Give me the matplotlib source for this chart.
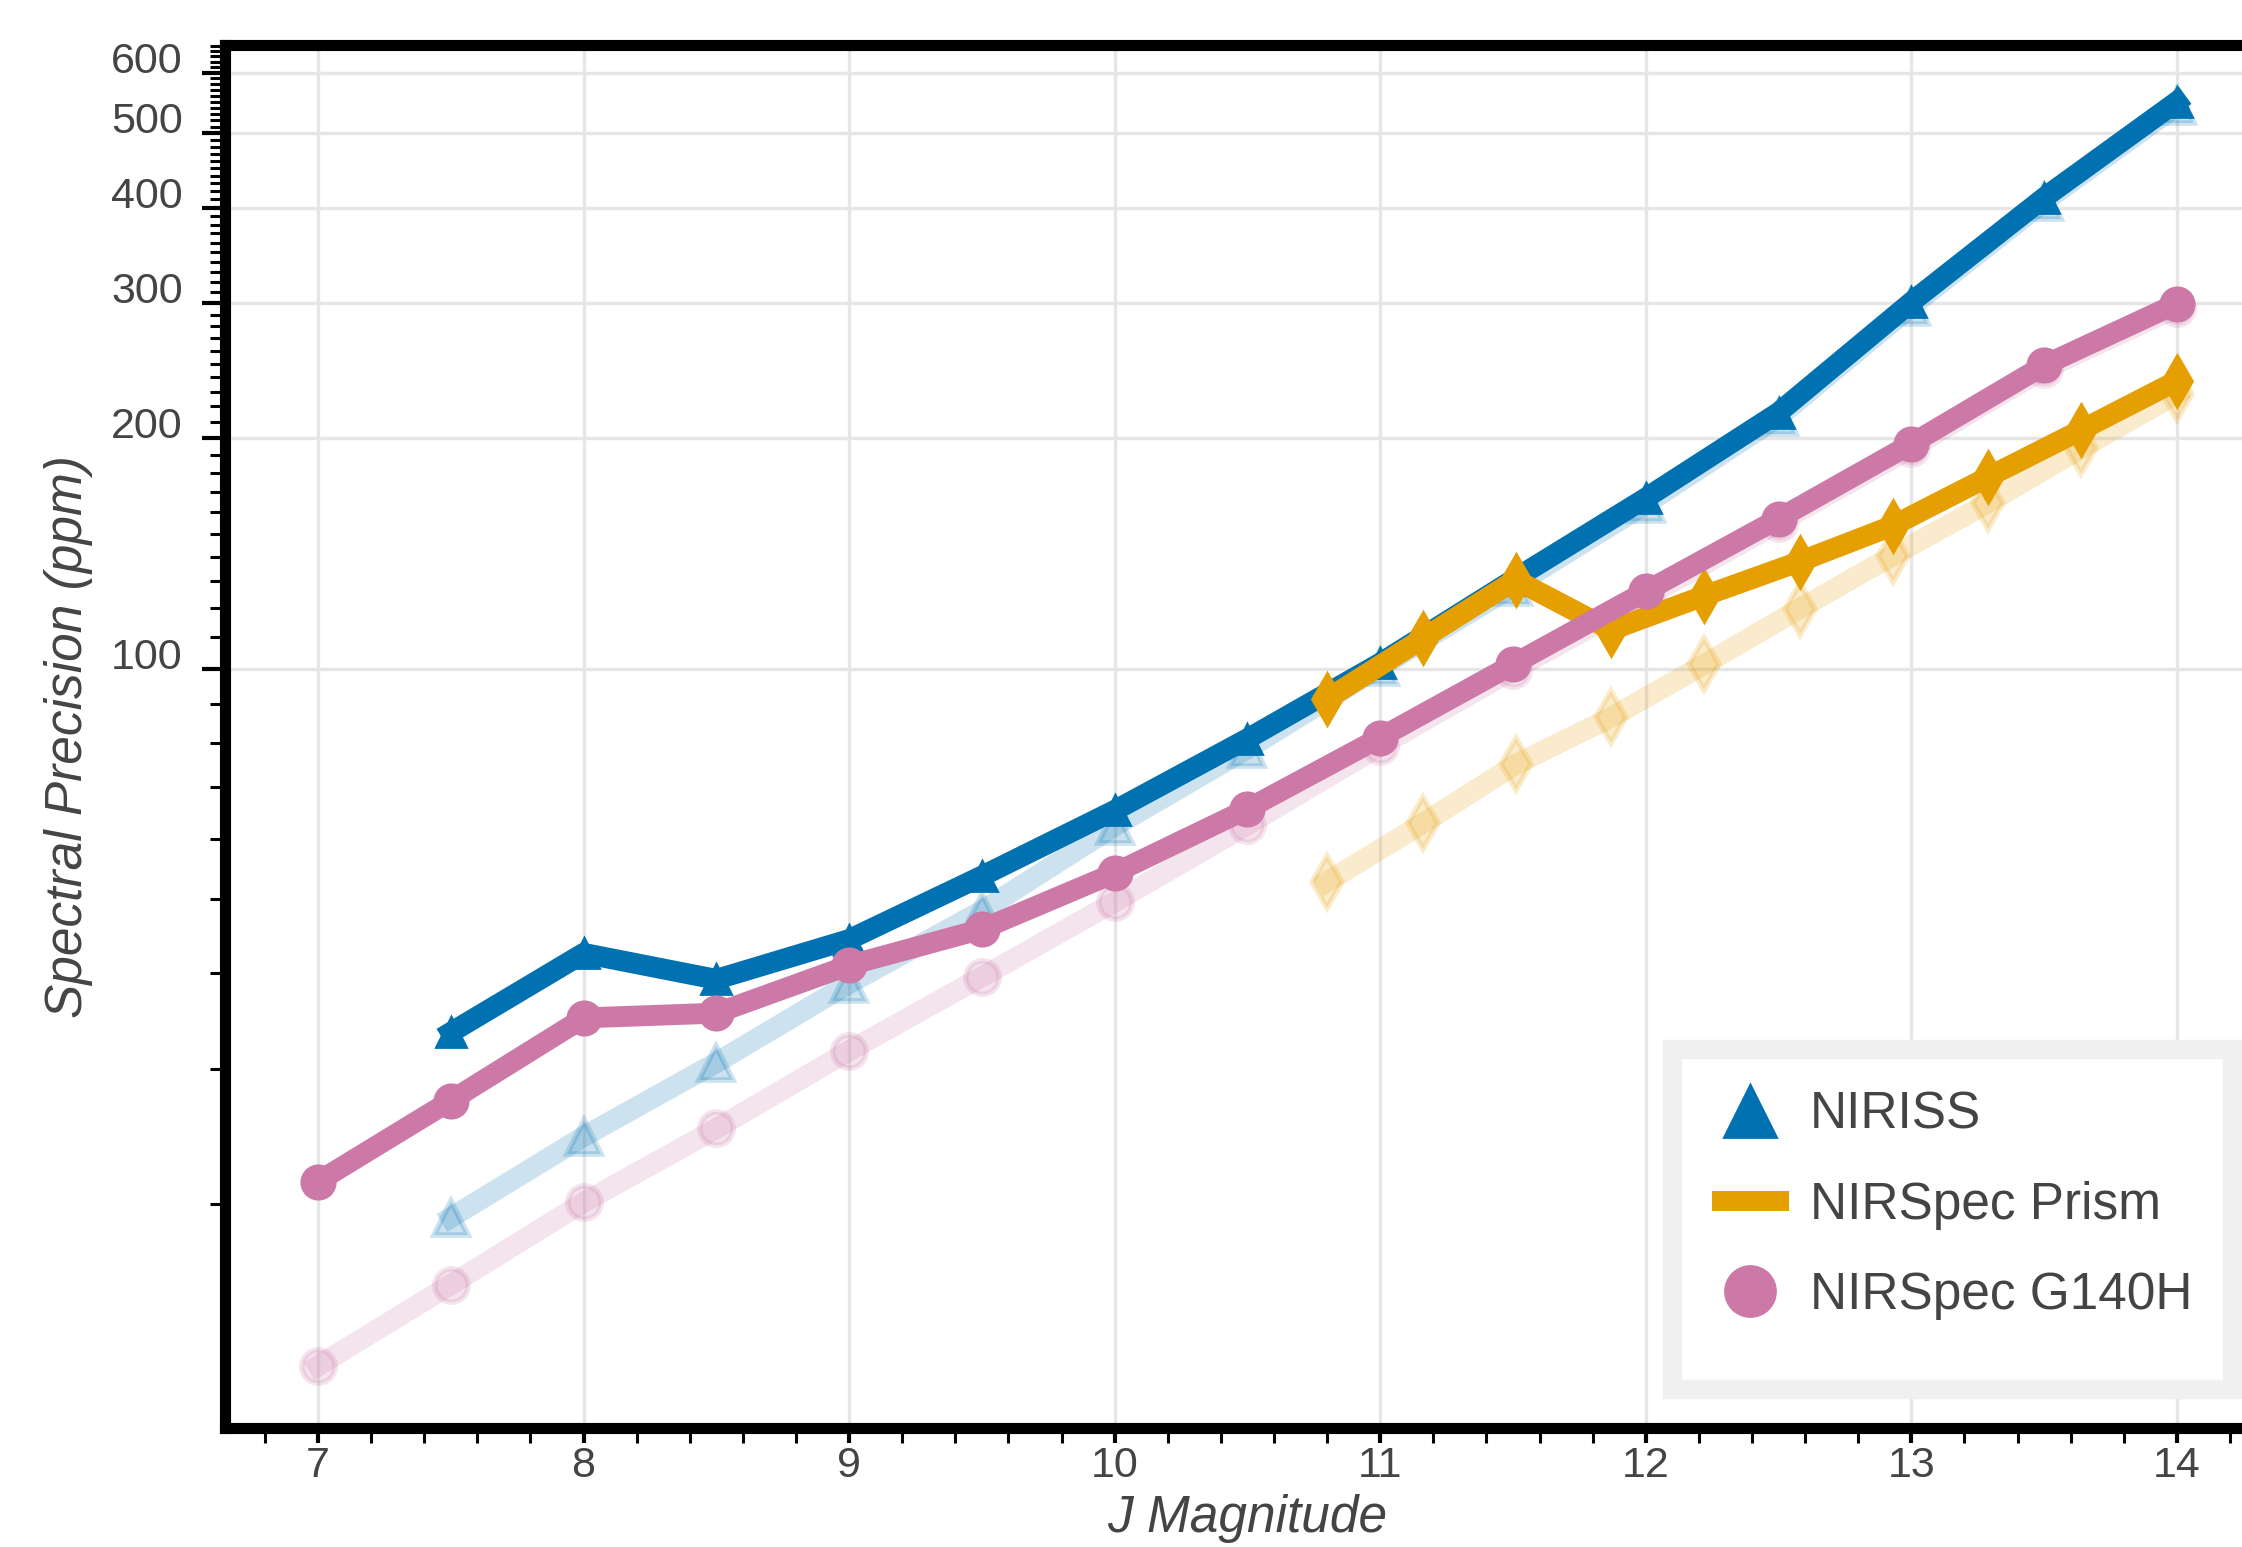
import matplotlib
matplotlib.use("Agg")
import matplotlib.pyplot as plt
from matplotlib.lines import Line2D
from matplotlib.patches import Rectangle
from matplotlib.ticker import FixedLocator, FixedFormatter, MultipleLocator, NullFormatter

plt.rcParams['font.family'] = ['Liberation Sans', 'DejaVu Sans']

# J magnitude grid
jmag = [7.0, 7.5, 8.0, 8.5, 9.0, 9.5, 10.0, 10.5, 11.0, 11.5, 12.0, 12.5, 13.0, 13.5, 14.0]
niriss_j = [7.5, 8.0, 8.5, 9.0, 9.5, 10.0, 10.5, 11.0, 11.5, 12.0, 12.5, 13.0, 13.5, 14.0]
prism_j = [10.8, 11.16, 11.51, 11.87, 12.22, 12.58, 12.93, 13.29, 13.64, 14.0]

# spectral precision (ppm)
niriss = [33.5, 42.5, 39.3, 44.3, 53.6, 65.3, 81.0, 101.7, 130.6, 167, 216, 301, 412, 550]
niriss_ref = [19.2, 24.5, 30.6, 38.8, 48.3, 62.3, 78.6, 100.5, 128, 164, 213, 297, 407, 543]
prism = [91.3, 109.5, 130.6, 112.3, 124.5, 138, 153.7, 178, 205, 237.6]
prism_ref = [52.7, 62.8, 75.0, 86.4, 101.3, 119.8, 140.5, 164.7, 194, 228.5]
g140h = [21.4, 27.3, 35.0, 35.5, 41.0, 45.7, 54.1, 65.6, 81.3, 101.3, 126.2, 157, 196.6, 249, 299.7]
g140h_ref = [12.3, 15.7, 20.1, 25.1, 31.7, 39.6, 49.6, 62.5, 79.3, 99.6, 124, 155, 194, 246, 296]

labels = ['NIRISS', 'NIRSpec Prism', 'NIRSpec G140H']
yticks = [100, 200, 300, 400, 500, 600]
blue, orange, pink = '#0072B2', '#E69F00', '#CC79A7'
grey = '#444444'

fig = plt.figure(figsize=(11.21, 7.735), dpi=200)
ax = fig.add_axes([0.1004, 0.0769, 0.912, 0.894])

lw = 7.5
# faded reference curves
ax.plot(niriss_j, niriss_ref, color=blue, lw=lw, marker='^', ms=12, mew=2, alpha=0.2)
ax.plot(prism_j, prism_ref, color=orange, lw=lw, marker='d', ms=13, mew=2, alpha=0.2)
ax.plot(jmag, g140h_ref, color=pink, lw=lw, marker='o', ms=12, mew=2, alpha=0.2)

# main curves
ax.plot(niriss_j, niriss, color=blue, lw=lw, marker='^', ms=11)
ax.plot(prism_j, prism, color=orange, lw=lw, marker='d', ms=13)
ax.plot(jmag, g140h, color=pink, lw=lw, marker='o', ms=12)

ax.set_yscale('log')
ax.set_xlim(6.65, 14.35)
ax.set_ylim(10.2, 652)

ax.yaxis.set_major_locator(FixedLocator(yticks))
ax.yaxis.set_major_formatter(FixedFormatter([str(t) for t in yticks]))
ax.yaxis.set_minor_locator(MultipleLocator(10))
ax.yaxis.set_minor_formatter(NullFormatter())
ax.xaxis.set_major_locator(MultipleLocator(1))
ax.xaxis.set_minor_locator(MultipleLocator(0.2))

ax.grid(True, which='major', color='#e6e6e6', lw=1.2)
ax.set_axisbelow(True)

for side in ['left', 'bottom', 'top']:
    ax.spines[side].set_linewidth(4)
    ax.spines[side].set_color('black')
ax.spines['right'].set_visible(False)

ax.tick_params(axis='y', which='major', direction='out', length=8.3, width=1.5,
               labelsize=15.5, labelcolor=grey, pad=7)
ax.tick_params(axis='y', which='minor', direction='out', length=5.4, width=1.1)
ax.tick_params(axis='x', which='major', direction='out', length=5.4, width=1.5,
               labelsize=15.5, labelcolor=grey, pad=1)
ax.tick_params(axis='x', which='minor', direction='out', length=5.4, width=1.1)
for lab in ax.get_yticklabels():
    lab.set_verticalalignment('baseline')

ax.set_ylabel('Spectral Precision (ppm)', fontsize=18.5, style='italic', color=grey, labelpad=6.5)
ax.set_xlabel('J Magnitude', fontsize=18.5, style='italic', color=grey, labelpad=3)

# legend frame
frame = Rectangle((0.7458, 0.1021), 0.2498, 0.2195, transform=fig.transFigure,
                  facecolor='white', edgecolor='#f0f0f0', lw=7, zorder=1)
fig.patches.append(frame)

handles = [
    Line2D([], [], color=blue, marker='^', ls='none', ms=19),
    Line2D([], [], color=orange, lw=7.2, solid_capstyle='butt'),
    Line2D([], [], color=pink, marker='o', ls='none', ms=18),
]
fig.legend(handles, labels, loc='upper left', bbox_to_anchor=(0.7634, 0.2948),
           frameon=False, fontsize=18.5, handlelength=1.5, handletextpad=0.41,
           labelspacing=0.8, borderpad=0, borderaxespad=0, labelcolor=grey)

fig.savefig('out.png', dpi=200)
